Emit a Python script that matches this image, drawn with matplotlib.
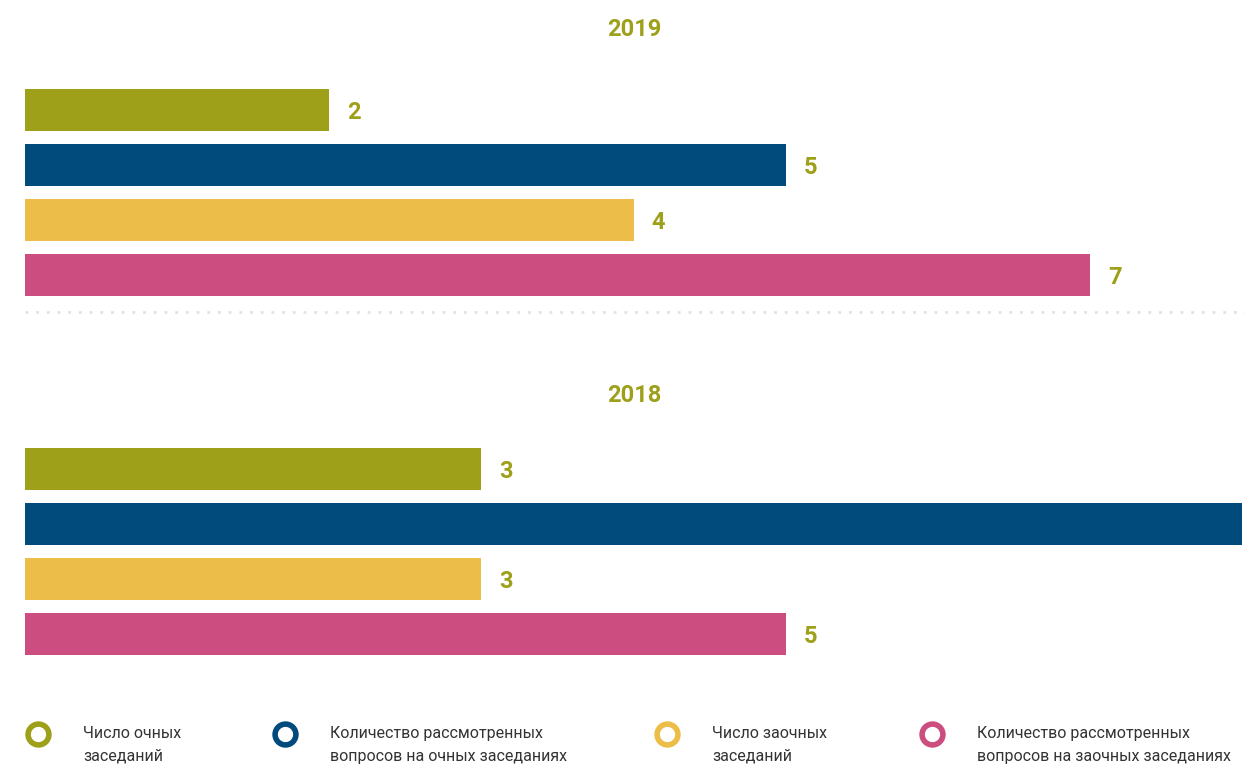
import matplotlib
matplotlib.use("Agg")
import matplotlib.pyplot as plt
from matplotlib import font_manager

# condensed face if present, otherwise plain sans
names = {f.name for f in font_manager.fontManager.ttflist}
fam = 'Liberation Sans Narrow' if 'Liberation Sans Narrow' in names else 'Roboto'
plt.rcParams['font.family'] = [fam, 'DejaVu Sans']

# data
years = ['2019', '2018']
series = ['Число очных\nзаседаний',
          'Количество рассмотренных\nвопросов на очных заседаниях',
          'Число заочных\nзаседаний',
          'Количество рассмотренных\nвопросов на заочных заседаниях']
values_2019 = [2, 5, 4, 7]
values_2018 = [3, 8, 3, 5]
labels_2018 = ['3', '', '3', '5']
colors = ['#9ea01a', '#004a7c', '#ecbd48', '#cc4d7f']
accent = '#9ea01a'

W, H = 1245, 767
fig = plt.figure(figsize=(W / 100, H / 100), dpi=100)

def px(x, y):
    return x / W, 1 - y / H

def draw_year(vals, labels, top, title, title_y):
    ax = fig.add_axes([25 / W, 1 - (top + 220) / H, 1217 / W, 220 / H])
    pos = range(len(vals))
    ax.barh(pos, vals, height=0.76, color=colors)
    ax.set_xlim(0, 8)
    ax.set_ylim(3.5, -0.5)
    ax.axis('off')
    for p, v, lab in zip(pos, vals, labels):
        ax.annotate(lab, (v, p), xytext=(13, -2), textcoords='offset points',
                    va='center', ha='left', fontsize=17, fontweight='bold',
                    color=accent)
    fig.text(*px(634, title_y), title, ha='center', va='center',
             fontsize=17, fontweight='bold', color=accent)

draw_year(values_2019, [str(v) for v in values_2019], 82.5, years[0], 30)
draw_year(values_2018, labels_2018, 441.5, years[1], 395)

# dotted separator, small square dots
fig.add_artist(plt.Line2D([25 / W, 1], [1 - 312 / H] * 2, color='#e2e2e2',
                          lw=2, linestyle=(0, (1, 2.85)), dash_capstyle='butt',
                          transform=fig.transFigure))

# legend with ring markers
ring_x = [38, 285, 667, 932]
for rx, col, name in zip(ring_x, colors, series):
    fig.add_artist(plt.Line2D([rx / W], [1 - 734 / H], marker='o',
                              markersize=15, markerfacecolor='white',
                              markeredgecolor=col, markeredgewidth=4,
                              transform=fig.transFigure))
    fig.text(*px(rx + 45, 745), name, ha='left', va='center', fontsize=11.5,
             color='#333333', linespacing=1.6)

fig.savefig('out.png', dpi=100)
